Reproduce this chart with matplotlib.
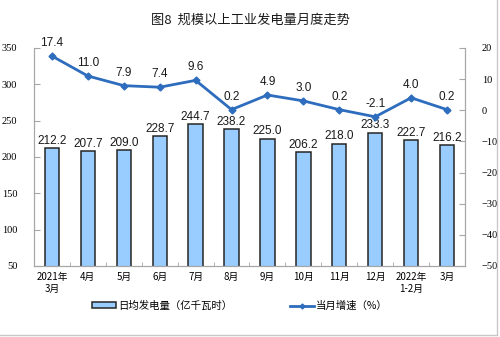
import matplotlib.pyplot as plt
import numpy as np
from matplotlib.lines import Line2D
from matplotlib.patches import Patch

plt.rcParams['font.family'] = ['Noto Sans CJK SC', 'DejaVu Sans']

months = ['2021年\n3月', '4月', '5月', '6月', '7月', '8月', '9月', '10月',
          '11月', '12月', '2022年\n1-2月', '3月']
daily_output = [212.2, 207.7, 209.0, 228.7, 244.7, 238.2, 225.0, 206.2,
                218.0, 233.3, 222.7, 216.2]
monthly_growth = [17.4, 11.0, 7.9, 7.4, 9.6, 0.2, 4.9, 3.0, 0.2, -2.1, 4.0, 0.2]

BAR_COLOR = '#99ccff'
LINE_COLOR = '#2e6dbd'
SPINE_COLOR = '#a6a6a6'

fig = plt.figure(figsize=(5.0, 3.37), dpi=100)
ax = fig.add_axes([0.068, 0.2107, 0.862, 0.647])
ax2 = ax.twinx()

x = np.arange(len(months))
ax.bar(x, daily_output, width=0.4, color=BAR_COLOR, edgecolor='#262626',
       linewidth=1.1, zorder=2)
for xi, v in zip(x, daily_output):
    ax.text(xi, v + 2, f'{v:.1f}', ha='center', va='bottom', fontsize=8.5,
            family='Liberation Sans', color='#1a1a1a')

ax.set_xlim(-0.5, len(months) - 0.5)
ax.set_ylim(50, 350)
ax.set_yticks(np.arange(50, 351, 50))
ax.set_xticks(x)
ax.set_xticklabels(months, fontsize=7, linespacing=1.3)
ax.set_xticks(np.arange(-0.5, len(months), 1.0), minor=True)
ax.tick_params(axis='x', which='major', length=0, pad=4)
ax.tick_params(axis='x', which='minor', length=3, direction='in',
               color=SPINE_COLOR)
ax.tick_params(axis='y', length=4, direction='in', color=SPINE_COLOR, pad=12)

ax2.plot(x, monthly_growth, color=LINE_COLOR, linewidth=2, marker='D',
         markersize=3.5, zorder=3)
for xi, v in zip(x, monthly_growth):
    ax2.text(xi, v + 2.2, f'{v:.1f}', ha='center', va='bottom', fontsize=8.5,
             family='Liberation Sans', color='#1a1a1a')
ax2.set_ylim(-50, 20)
ax2.set_yticks(np.arange(-50, 21, 10))
ax2.tick_params(axis='y', length=4, direction='in', color=SPINE_COLOR, pad=12)

for a in (ax, ax2):
    a.spines['top'].set_visible(False)
    for side in ('left', 'right', 'bottom'):
        a.spines[side].set_color(SPINE_COLOR)
        a.spines[side].set_linewidth(0.8)
    for lbl in a.get_yticklabels():
        lbl.set_family('Liberation Serif')
        lbl.set_fontsize(7.5)

fig.text(0.5, 0.94, '图8  规模以上工业发电量月度走势', ha='center', va='center',
         fontsize=9.5, color='#1a1a1a')

handles = [Patch(facecolor=BAR_COLOR, edgecolor='#262626', linewidth=1.1),
           Line2D([0], [0], color=LINE_COLOR, linewidth=2, marker='D',
                  markersize=2.5)]
fig.legend(handles, ['日均发电量（亿千瓦时）', '当月增速（%）'],
           loc='center', bbox_to_anchor=(0.48, 0.092), ncol=2, frameon=False,
           fontsize=7.5, handlelength=2.3, handleheight=0.5,
           handletextpad=0.2, columnspacing=5.5)

# thin frame along the bottom and right edges
fig.add_artist(Line2D([0, 0.994], [0.006, 0.006], transform=fig.transFigure,
                      color='#c8c8c8', linewidth=1))
fig.add_artist(Line2D([0.994, 0.994], [0.006, 1], transform=fig.transFigure,
                      color='#c8c8c8', linewidth=1))

fig.savefig('out.png', dpi=100)
